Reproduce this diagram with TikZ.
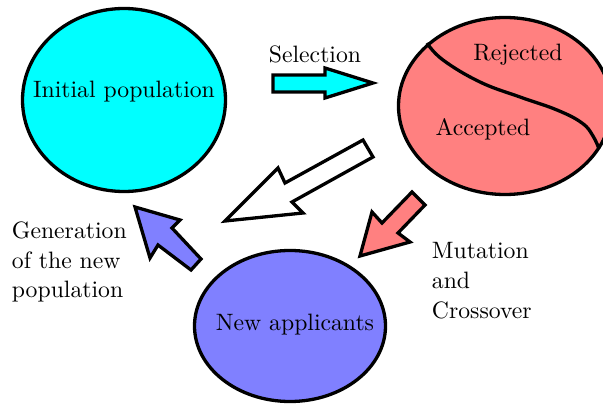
\documentclass[tikz,border=0pt]{standalone}
\usetikzlibrary{shapes.geometric}
\definecolor{cyanfill}{RGB}{0,255,255}
\definecolor{redfill}{RGB}{255,128,128}
\definecolor{bluefill}{RGB}{128,128,255}
\begin{document}
\begin{tikzpicture}[x=1pt,y=-1pt,line width=3.3pt,
  blob/.style={ellipse, draw=black, inner sep=0pt},
  txt/.style={inner sep=0pt, scale=2.37, font=\fontsize{10}{12.6}\selectfont},
  arrowshape/.style={draw=black, line join=miter}
]
\useasboundingbox (0,0) rectangle (603,406);
\begin{scope}
\clip (0,0) rectangle (603,406);
% ellipses
\node[blob, fill=cyanfill, minimum width=203pt, minimum height=183pt] (init) at (124,100) {};
\node[blob, fill=redfill, minimum width=213pt, minimum height=177pt] (sel) at (505,106) {};
\node[blob, fill=bluefill, minimum width=191pt, minimum height=151pt] (newapp) at (290,326) {};
% separating curve
\draw plot[smooth, tension=0.7] coordinates {(427,43) (443,60) (480,82) (520,97) (557,110) (582,123) (593,136) (599,149)};
\end{scope}
% labels in ellipses
\node[txt] (tinit) at (124,92) {Initial population};
\node[txt] (trej) at (518,55) {Rejected};
\node[txt] (tacc) at (483,129) {Accepted};
\node[txt] (tnew) at (295,325) {New applicants};
% free labels
\node[txt] (tsel) at (315,54) {Selection};
\node[txt, align=left, anchor=west] (tgen) at (8,262) {Generation\\of the new\\population};
\node[txt, align=left, anchor=west] (tmut) at (428,281) {Mutation\\and\\Crossover};
% arrows
\draw[arrowshape, fill=cyanfill] (273,75) -- (325,75) -- (325,68) -- (373,83) -- (325,98) -- (325,92) -- (273,92) -- cycle;
\draw[arrowshape, fill=white] (225,221) -- (278,168) -- (285,183) -- (363,140) -- (373,157) -- (292,202) -- (303,213) -- cycle;
\draw[arrowshape, fill=redfill] (360,256) -- (372,212) -- (382,223) -- (412,192) -- (425,205) -- (398,233) -- (410,242) -- cycle;
\draw[arrowshape, fill=bluefill] (135,207) -- (180,220) -- (172,228) -- (201,259) -- (191,270) -- (158,245) -- (150,258) -- cycle;
\end{tikzpicture}
\end{document}
